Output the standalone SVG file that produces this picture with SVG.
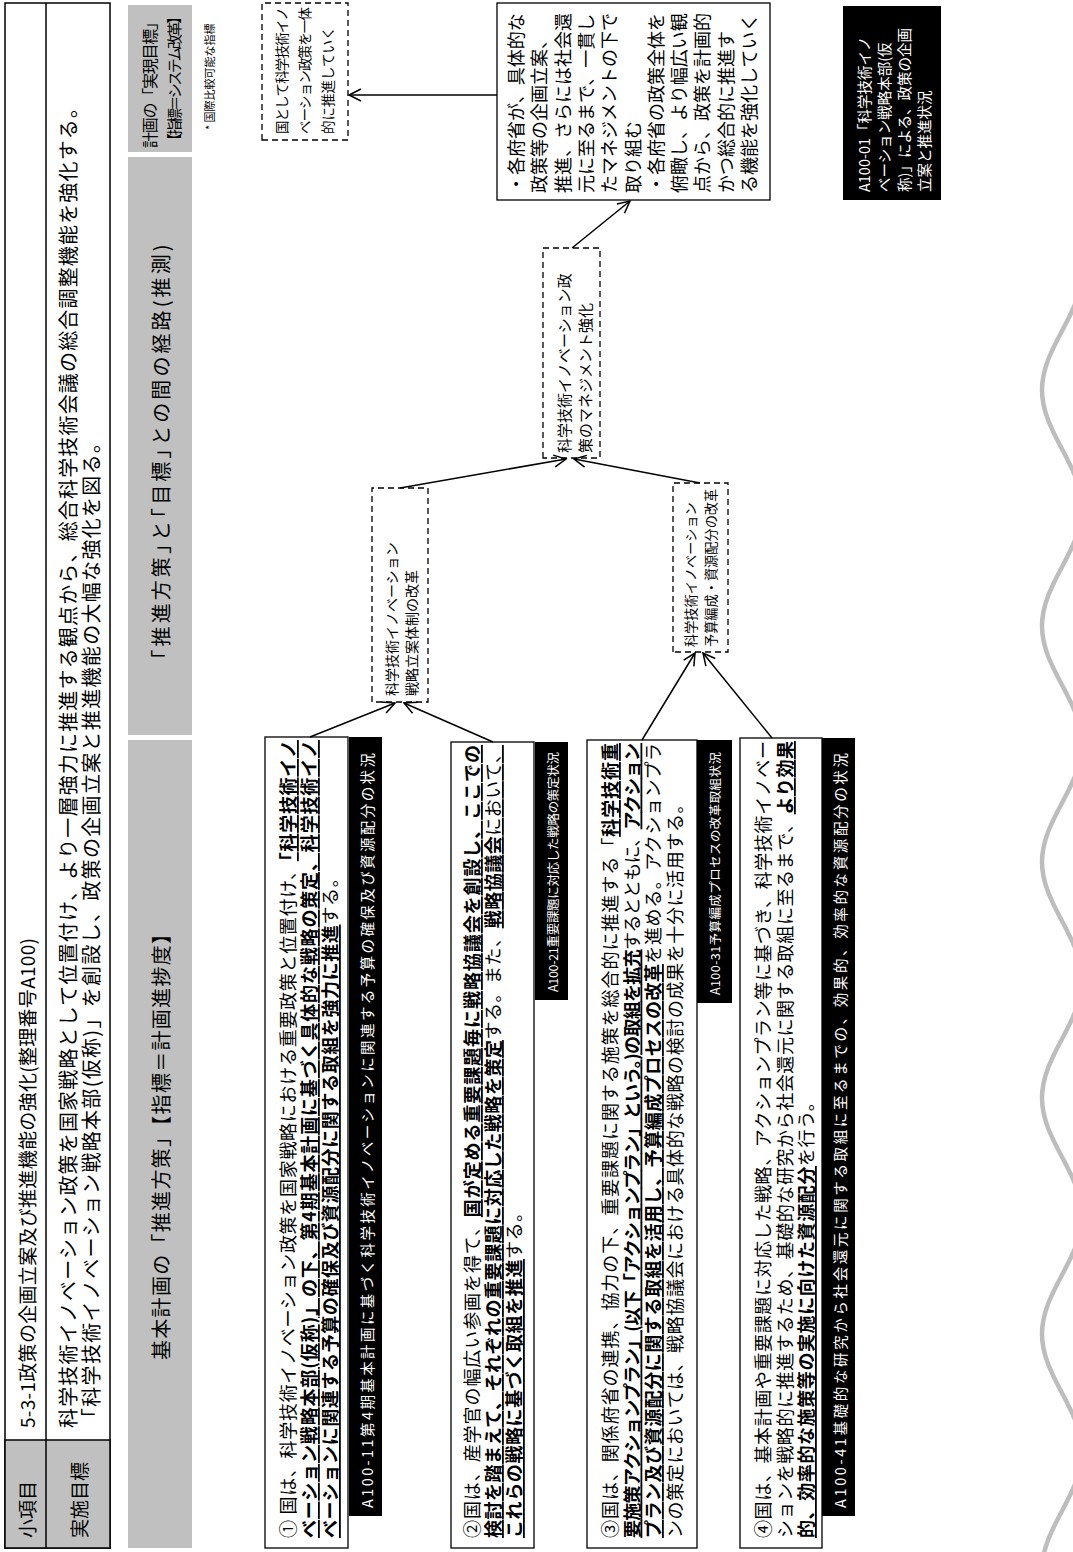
<svg xmlns="http://www.w3.org/2000/svg" width="1073" height="1552" viewBox="0 0 1073 1552">
<style>
text{font-family:"Noto Sans CJK JP","Noto Sans CJK SC",sans-serif;dominant-baseline:central;fill:#000}
.t19{font-size:19px}
.hdr{font-size:20px}
.box{fill:#fff;stroke:#000;stroke-width:1.3}
.dash{fill:#fff;stroke:#000;stroke-width:1.3;stroke-dasharray:6 4}
.gray{fill:#c0c0c0}
.lbl{fill:#000}
.wt{fill:#fff;font-size:14.5px}
.wts{fill:#fff;font-size:12.5px}
.b{font-weight:bold;text-decoration:underline}
.u{text-decoration:underline}
.body{font-size:18px}
.ls{letter-spacing:0.6px}
.halt{font-feature-settings:"halt"}
.conn line{stroke:#000;stroke-width:1.5;marker-end:url(#arr)}
</style>
<defs>
<marker id="arr" markerUnits="userSpaceOnUse" markerWidth="16" markerHeight="16" refX="13" refY="7" orient="auto"><path d="M1,1 L13,7 L1,13" fill="none" stroke="#000" stroke-width="1.5"/></marker>
</defs>
<g transform="translate(0,1552) rotate(-90)">
<g id="table">
<rect x="4" y="5" width="1545" height="105" fill="#fff" stroke="#000" stroke-width="1.5"/>
<rect x="4" y="5" width="108" height="105" class="gray" stroke="#000" stroke-width="1.5"/>
<line x1="4" y1="46" x2="1549" y2="46" stroke="#000" stroke-width="1.5"/>
<text x="14" y="26" class="t19">小項目</text>
<text x="14" y="78" class="t19">実施目標</text>
<text x="124" y="26" class="t19" textLength="490" lengthAdjust="spacing">5-3-1政策の企画立案及び推進機能の強化(整理番号A100)</text>
<text x="124" y="67" class="hdr" textLength="1330" lengthAdjust="spacing">科学技術イノベーション政策を国家戦略として位置付け、より一層強力に推進する観点から、総合科学技術会議の総合調整機能を強化する。</text>
<text x="124" y="90" class="hdr" textLength="995" lengthAdjust="spacing">「科学技術イノベーション戦略本部(仮称)」を創設し、政策の企画立案と推進機能の大幅な強化を図る。</text>
</g>
<g id="header1">
<rect x="4" y="128" width="808" height="64" class="gray"/>
<text x="410" y="160" class="hdr" text-anchor="middle" textLength="436" lengthAdjust="spacing">基本計画の「推進方策」【指標＝計画進捗度】</text>
</g>
<g id="header2">
<rect x="817" y="128" width="578" height="64" class="gray"/>
<text x="1100" y="160" class="hdr halt" text-anchor="middle" textLength="415" lengthAdjust="spacing">「推進方策」と「目標」との間の経路(推測)</text>
</g>
<g id="header3">
<rect x="1400" y="128" width="147" height="64" class="gray"/>
<text x="1404" y="149" style="font-size:16px" textLength="134" lengthAdjust="spacing">計画の「実現目標」</text>
<text x="1404" y="173" style="font-size:15px" textLength="139" lengthAdjust="spacing">【指標＝システム改革】</text>
</g>
<text x="1422" y="209" style="font-size:11px">* 国際比較可能な指標</text>

<g id="nodeA">
<rect x="1412" y="262" width="137" height="86" class="dash"/>
<text x="1418" y="281" style="font-size:13.5px" textLength="127" lengthAdjust="spacing">国として科学技術イノ</text>
<text x="1418" y="304" style="font-size:13.5px" textLength="127" lengthAdjust="spacing">ベーション政策を一体</text>
<text x="1418" y="327" style="font-size:13.5px">的に推進していく</text>
</g>
<g id="nodeB" style="font-size:18px">
<rect x="1352" y="497" width="197" height="273" class="box"/>
<text x="1359" y="515">・各府省が、具体的な</text>
<text x="1359" y="538">政策等の企画立案、</text>
<text x="1359" y="562">推進、さらには社会還</text>
<text x="1359" y="585">元に至るまで、一貫し</text>
<text x="1359" y="608">たマネジメントの下で</text>
<text x="1359" y="632">取り組む</text>
<text x="1359" y="655">・各府省の政策全体を</text>
<text x="1359" y="678">俯瞰し、より幅広い観</text>
<text x="1359" y="701">点から、政策を計画的</text>
<text x="1359" y="725">かつ総合的に推進す</text>
<text x="1359" y="748">る機能を強化していく</text>
</g>
<g id="nodeC" style="font-size:14.5px">
<rect x="1352" y="843" width="194" height="98" class="lbl"/>
<text x="1360" y="863" style="fill:#fff">A100-01「科学技術イノ</text>
<text x="1360" y="883" style="fill:#fff">ベーション戦略本部(仮</text>
<text x="1360" y="903" style="fill:#fff">称)」による、政策の企画</text>
<text x="1360" y="923" style="fill:#fff">立案と推進状況</text>
</g>
<g id="nodeD" style="font-size:15px">
<rect x="1094" y="543" width="210" height="57" class="dash"/>
<text x="1099" y="563">科学技術イノベーション政</text>
<text x="1099" y="584">策のマネジメント強化</text>
</g>
<g id="nodeE" style="font-size:14px">
<rect x="850" y="372" width="214" height="56" class="dash"/>
<text x="856" y="391">科学技術イノベーション</text>
<text x="856" y="411">戦略立案体制の改革</text>
</g>
<g id="nodeF" style="font-size:13.2px">
<rect x="900" y="673" width="169" height="55" class="dash"/>
<text x="905" y="690">科学技術イノベーション</text>
<text x="905" y="710">予算編成・資源配分の改革</text>
</g>

<g id="box1" class="body">
<rect x="4" y="265" width="811" height="83" class="box"/>
<text x="14" y="287" textLength="798" lengthAdjust="spacing">① 国は、科学技術イノベーション政策を国家戦略における重要政策と位置付け、<tspan class="b">「科学技術イノ</tspan></text>
<text x="14" y="308" textLength="798" lengthAdjust="spacing"><tspan class="b">ベーション戦略本部(仮称)」の下、第4期基本計画に基づく具体的な戦略の策定、科学技術イノ</tspan></text>
<text x="14" y="329" class="ls"><tspan class="b">ベーションに関連する予算の確保及び資源配分に関する取組を強力に推進</tspan>する。</text>
<rect x="36" y="349" width="779" height="33" class="lbl"/>
<text x="44" y="366" class="wt" textLength="755" lengthAdjust="spacing">A100-11第4期基本計画に基づく科学技術イノベーションに関連する予算の確保及び資源配分の状況</text>
</g>
<g id="box2" class="body">
<rect x="4" y="451" width="806" height="83" class="box"/>
<text x="14" y="471" textLength="793" lengthAdjust="spacing">②国は、産学官の幅広い参画を得て、<tspan class="b">国が定める重要課題毎に戦略協議会を創設し、ここでの</tspan></text>
<text x="14" y="492" textLength="793" lengthAdjust="spacing"><tspan class="b">検討を踏まえて、それぞれの重要課題に対応した戦略を策定</tspan>する。また、<tspan class="b">戦略協議会</tspan><tspan class="u">において、</tspan></text>
<text x="14" y="513" class="ls"><tspan class="b">これらの戦略に基づく取組を推進</tspan>する。</text>
<rect x="552" y="535" width="258" height="33" class="lbl"/>
<text x="560" y="552" class="wts" textLength="240" lengthAdjust="spacing">A100-21重要課題に対応した戦略の策定状況</text>
</g>
<g id="box3" class="body">
<rect x="4" y="587" width="808" height="110" class="box"/>
<text x="14" y="609" textLength="795" lengthAdjust="spacing">③国は、関係府省の連携、協力の下、重要課題に関する施策を総合的に推進する「<tspan class="b">科学技術重</tspan></text>
<text x="14" y="630.5" textLength="795" lengthAdjust="spacing"><tspan class="b">要施策アクションプラン」(以下「アクションプラン」という。)の取組を拡充</tspan>するとともに、<tspan class="b">アクション</tspan></text>
<text x="14" y="652" textLength="795" lengthAdjust="spacing"><tspan class="b">プラン及び資源配分に関する取組を活用し、予算編成プロセスの改革</tspan>を進める。アクションプラ</text>
<text x="14" y="673.5" class="ls">ンの策定においては、戦略協議会における具体的な戦略の検討の成果を十分に活用する。</text>
<rect x="549" y="697" width="263" height="35" class="lbl"/>
<text x="557" y="714.5" class="wts" textLength="243" lengthAdjust="spacing">A100-31予算編成プロセスの改革取組状況</text>
</g>
<g id="box4" class="body">
<rect x="4" y="740" width="810" height="82" class="box"/>
<text x="14" y="762" textLength="797" lengthAdjust="spacing">④国は、基本計画や重要課題に対応した戦略、アクションプラン等に基づき、科学技術イノベー</text>
<text x="14" y="784" textLength="797" lengthAdjust="spacing">ションを戦略的に推進するため、基礎的な研究から社会還元に関する取組に至るまで、<tspan class="b">より効果</tspan></text>
<text x="14" y="805" class="ls"><tspan class="b">的、効率的な施策等の実施に向けた資源配分</tspan>を行う。</text>
<rect x="36" y="822" width="778" height="33" class="lbl"/>
<text x="44" y="839" class="wt" textLength="755" lengthAdjust="spacing">A100-41基礎的な研究から社会還元に関する取組に至るまでの、効果的、効率的な資源配分の状況</text>
</g>

<g id="connectors" class="conn">
<line x1="1457" y1="497" x2="1457" y2="349"/>
<line x1="1304" y1="572" x2="1351" y2="630"/>
<line x1="1064" y1="400" x2="1093" y2="566"/>
<line x1="1069" y1="700" x2="1093" y2="574"/>
<line x1="815" y1="310" x2="849" y2="395"/>
<line x1="810" y1="493" x2="849" y2="404"/>
<line x1="812" y1="642" x2="899" y2="695"/>
<line x1="814" y1="772" x2="899" y2="703"/>
</g>
</g>
<path id="wave" d="M1082,272 C1082,315 1042,347 1042,390 S1082,465 1082,508 S1042,583 1042,626 S1082,701 1082,744 S1042,819 1042,862 S1082,937 1082,980 S1042,1055 1042,1098 S1082,1173 1082,1216 S1042,1291 1042,1334 S1082,1409 1082,1452 S1042,1527 1042,1570" fill="none" stroke="#bdbdbd" stroke-width="4.5"/>
</svg>
